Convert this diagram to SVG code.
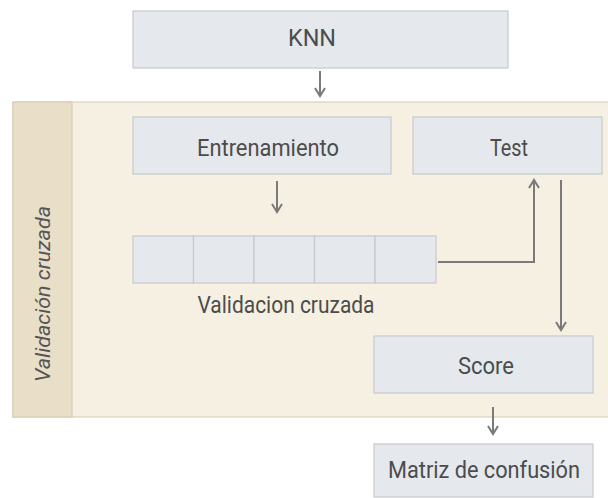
<svg xmlns="http://www.w3.org/2000/svg" width="608" height="498" viewBox="0 0 608 498">
<defs>
<style>
.box{fill:#e5e8ec;stroke:#c6c9cc;stroke-width:1.2}
.t{font-family:Roboto,"Noto Sans",sans-serif;font-size:24px;fill:#4c4c4c;text-anchor:middle;dominant-baseline:central}
.c{fill:none;stroke:#7a7a7a;stroke-width:2}
</style>
<marker id="ah" viewBox="0 0 12 12" refX="10" refY="6" markerWidth="12" markerHeight="12" markerUnits="userSpaceOnUse" orient="auto">
<path d="M2,1 L10,6 L2,11" fill="none" stroke="#7a7a7a" stroke-width="2"/>
</marker>
</defs>
<rect width="608" height="498" fill="#ffffff"/>
<g id="panel">
<rect x="13" y="102" width="600" height="315" fill="#f6f0e2" stroke="#d9d2c0" stroke-width="1.2"/>
<rect x="13" y="102" width="59" height="315" fill="#e9dfc8" stroke="#d8cdb2" stroke-width="1.2"/>
<text transform="translate(43,294) rotate(-90)" font-family="Roboto,'Noto Sans',sans-serif" font-size="21" font-style="italic" fill="#555" text-anchor="middle" dominant-baseline="central" textLength="176" lengthAdjust="spacingAndGlyphs">Validación cruzada</text>
</g>
<g id="knn"><rect class="box" x="133" y="11" width="375" height="57"/><text class="t" x="312" y="38" font-size="28" textLength="48" lengthAdjust="spacingAndGlyphs">KNN</text></g>
<g id="entrenamiento"><rect class="box" x="133" y="117" width="258" height="57"/><text class="t" x="268" y="148" textLength="142" lengthAdjust="spacingAndGlyphs">Entrenamiento</text></g>
<g id="test"><rect class="box" x="413" y="117" width="189" height="57"/><text class="t" x="509" y="148" textLength="38" lengthAdjust="spacingAndGlyphs">Test</text></g>
<g id="folds">
<rect class="box" x="133" y="236" width="60.5" height="47"/>
<rect class="box" x="193.5" y="236" width="60.5" height="47"/>
<rect class="box" x="254" y="236" width="60.5" height="47"/>
<rect class="box" x="314.5" y="236" width="60.5" height="47"/>
<rect class="box" x="375" y="236" width="61" height="47"/>
<text class="t" x="286" y="305" font-size="23" textLength="177" lengthAdjust="spacingAndGlyphs">Validacion cruzada</text>
</g>
<g id="score"><rect class="box" x="374" y="336" width="219" height="57"/><text class="t" x="486" y="366" textLength="56" lengthAdjust="spacingAndGlyphs">Score</text></g>
<g id="matriz"><rect class="box" x="374" y="444" width="219" height="53"/><text class="t" x="484" y="470" textLength="192" lengthAdjust="spacingAndGlyphs">Matriz de confusión</text></g>
<g id="connectors">
<path class="c" d="M320,71 V96" marker-end="url(#ah)"/>
<path class="c" d="M277,181 V212" marker-end="url(#ah)"/>
<path class="c" d="M438,262 H534 V180" marker-end="url(#ah)"/>
<path class="c" d="M561,180 V330" marker-end="url(#ah)"/>
<path class="c" d="M493,407 V434" marker-end="url(#ah)"/>
</g>
</svg>
